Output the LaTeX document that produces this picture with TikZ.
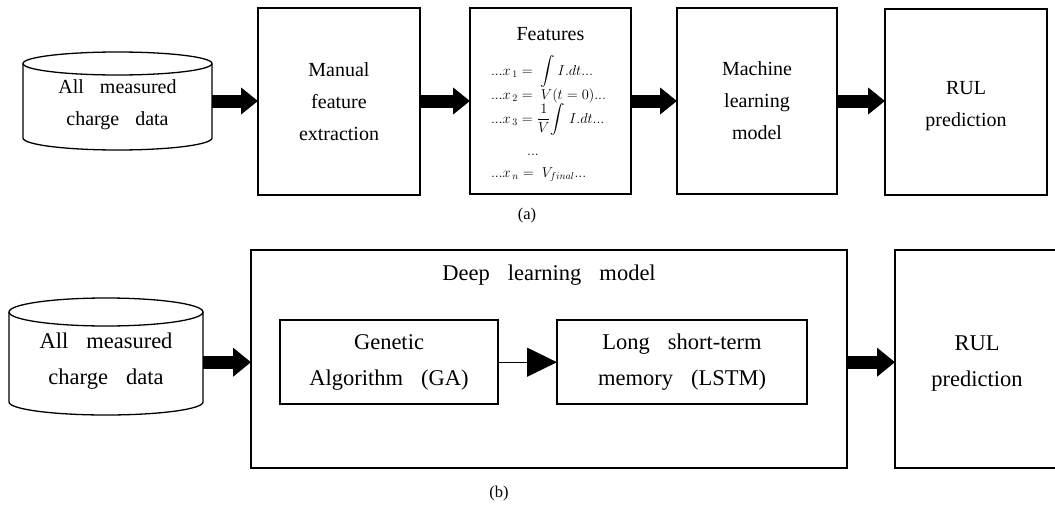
\documentclass[tikz,border=0pt]{standalone}
\usepackage{exscale}
\usepackage{fontspec}
\setmainfont{Liberation Serif}
\usetikzlibrary{arrows.meta}
% wide word gap used in the labels
\newcommand\gap{\hspace{0.8em}}
% invisible strut that pushes a centred label block downwards
\newcommand\lift[1]{\rule{0pt}{#1}}
% tall display integral whose height does not enlarge the line box
\newcommand\bigint{\smash{\displaystyle\int}}

\begin{document}
\begin{tikzpicture}[x=1pt,y=-1pt,
  every node/.style={inner sep=0pt,outer sep=0pt},
  box/.style={draw,line width=2pt,align=center},
  txta/.style={font=\fontsize{20}{32}\selectfont,align=center},
  txtb/.style={font=\fontsize{22.5}{36}\selectfont,align=center},
  mathln/.style={font=\fontsize{14.5}{18}\selectfont,anchor=base west},
  caplbl/.style={font=\fontsize{16.5}{19}\selectfont},
  drum/.style={line width=1.3pt},
  fata/.style={line width=13pt,-{Triangle[length=17pt,width=26pt]}},
  fatb/.style={line width=13pt,-{Triangle[length=18pt,width=28pt]}},
  thinarrow/.style={line width=1.3pt,-{Triangle[length=30pt,width=29pt]}}
]
\clip (0,0) rectangle (1055,506);

% ---------- (a) conventional pipeline ----------
% data store drawn as a cylinder
\draw[drum] (23,63.5) -- (23,138)
  arc[start angle=180,end angle=360,x radius=94.5pt,y radius=12pt] -- (212,63.5);
\draw[drum] (117.5,63.5) ellipse[x radius=94.5pt,y radius=11.5pt];
\node[txta,minimum width=189pt] (db1) at (117.5,104.3) {All\gap measured\\charge\gap data};

\node[box,txta,minimum width=162pt,minimum height=187pt] (man) at (339,101.5)
  {Manual\\feature\\extraction};
\node[box,minimum width=161pt,minimum height=186pt] (feat) at (550.5,101) {};
\node[txta,anchor=base] (feattitle) at (550.5,40) {Features};
\node[mathln] (f1) at (491,75) {$...x_{\,1}=\;\bigint\, I.dt...$};
\node[mathln] (f2) at (491,99) {$...x_{\,2}=\;V(t=0)...$};
\node[mathln] (f3) at (491,123) {$...x_{\,3}=\smash{\displaystyle\frac{1}{V}}\bigint\;I.dt...$};
\node[font=\fontsize{14.5}{18}\selectfont,anchor=base] (fdots) at (533,155) {$...$};
\node[mathln] (fn) at (491,177) {$...x_{\,n}=\;V_{final}...$};

\node[box,txta,minimum width=160pt,minimum height=186pt] (ml) at (757,101)
  {Machine\\learning\\model};
\node[box,txta,minimum width=162pt,minimum height=186pt] (rul1) at (966,102)
  {\lift{22pt}RUL\\prediction};

\draw[fata] (db1.east |- feat.west) -- (man.west |- feat.west);
\draw[fata] (man.east |- feat.west) -- (feat.west);
\draw[fata] (feat.east) -- (ml.west |- feat.east);
\draw[fata] (ml.east |- feat.east) -- (rul1.west |- feat.east);

\node[caplbl] (capa) at (527,216) {(a)};

% ---------- (b) proposed pipeline ----------
\draw[drum] (9,312) -- (9,402)
  arc[start angle=180,end angle=360,x radius=97pt,y radius=13pt] -- (203,312);
\draw[drum] (106,312) ellipse[x radius=97pt,y radius=14pt];
\node[txtb,minimum width=194pt] (db2) at (106,360.7) {All\gap measured\\charge\gap data};

\node[box,minimum width=596pt,minimum height=218pt] (dl) at (549,359) {};
\node[txtb,anchor=base] (dltitle) at (549,280) {Deep\gap learning\gap model};
\node[box,txtb,minimum width=218pt,minimum height=83.5pt] (ga) at (389,362.2)
  {Genetic\\Algorithm\gap (GA)};
\node[box,txtb,minimum width=250pt,minimum height=83.5pt] (lstm) at (682,362.2)
  {Long\gap short-term\\memory\gap (LSTM)};
\node[box,txtb,minimum width=164pt,minimum height=218pt] (rul2) at (977,359)
  {\lift{23.5pt}RUL\\prediction};

\draw[fatb] (db2.east |- ga.east) -- (dl.west |- ga.east);
\draw[thinarrow] (ga.east) -- (lstm.west);
\draw[fatb] (dl.east |- ga.east) -- (rul2.west |- ga.east);

\node[caplbl] (capb) at (499,494) {(b)};
\end{tikzpicture}
\end{document}
